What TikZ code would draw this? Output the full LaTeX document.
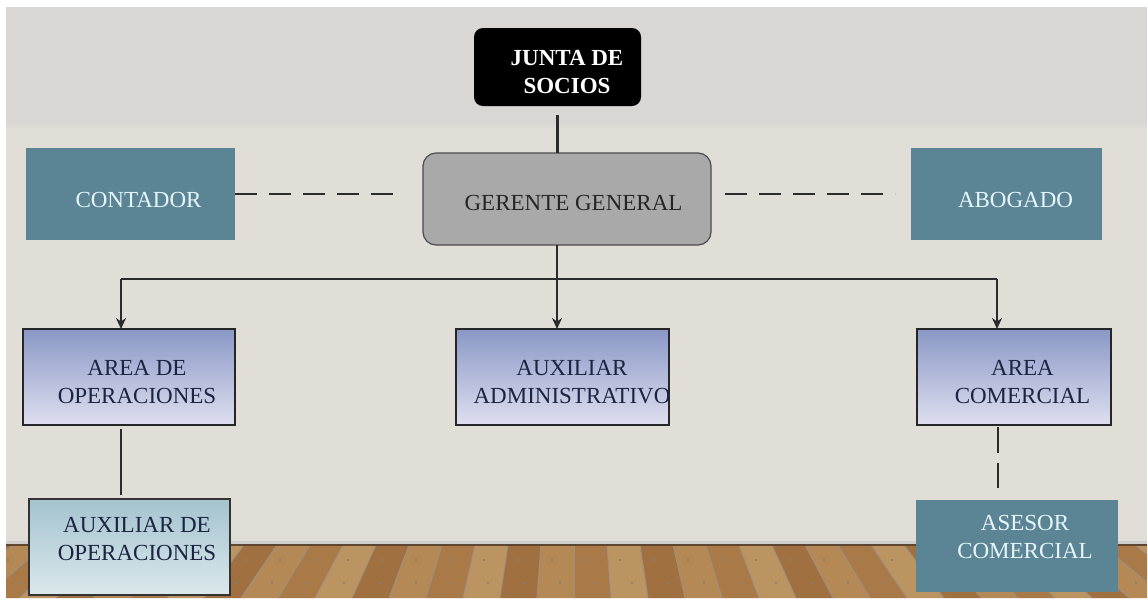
\documentclass[tikz,border=0pt]{standalone}
\usepackage{fontspec}
\setmainfont{Liberation Serif}
\usetikzlibrary{arrows.meta}
\definecolor{band}{HTML}{D9D7D3}
\definecolor{wall}{HTML}{E1DED7}
\definecolor{tealbox}{HTML}{5B8595}
\definecolor{tealtext}{HTML}{E6F5FB}
\definecolor{navytext}{HTML}{1B2440}
\definecolor{gerfill}{HTML}{A9A9A9}
\definecolor{gtop}{HTML}{8A98C6}
\definecolor{gbot}{HTML}{DEDFEF}
\definecolor{ctop}{HTML}{A3C3CF}
\definecolor{cbot}{HTML}{DCE8EC}
\definecolor{w0}{HTML}{A97A48}
\definecolor{w1}{HTML}{BC9462}
\definecolor{w2}{HTML}{A07040}
\definecolor{w3}{HTML}{B48956}
\definecolor{floorline}{HTML}{5E4630}
\definecolor{linec}{HTML}{2B2B2B}
\tikzset{
  boxbase/.style={inner sep=0pt, outer sep=0pt},
  tealnode/.style={boxbase, fill=tealbox},
  gradnode/.style={boxbase, draw=black!85, line width=1.3pt, top color=gtop, bottom color=gbot},
  lightnode/.style={boxbase, draw=black!80, line width=1.3pt, top color=ctop, bottom color=cbot},
  txt/.style={inner sep=0pt, align=center, font=\fontsize{23}{28}\selectfont},
  solidline/.style={draw=linec, line width=2.4pt},
  dashline/.style={draw=linec, line width=2.8pt, dash pattern=on 22pt off 12pt},
  arrowline/.style={solidline, -{Stealth[length=11pt,width=10pt]}}
}
\begin{document}
\begin{tikzpicture}[x=1pt,y=-1pt]
\useasboundingbox (0,0) rectangle (1148,603);
\fill[white] (0,0) rectangle (1148,603);
% wall
\fill[wall] (6,7) rectangle (1147,545);
\fill[band] (6,7) rectangle (1147,125);
\fill[band!50!wall] (6,124) rectangle (1147,128);
% floor
\begin{scope}
\clip (6,545) rectangle (1147,598);
\fill[w0] (6,545) rectangle (1147,598);
\foreach \k in {-20,...,19} {
  \pgfmathtruncatemacro\m{mod(\k+40,4)}
  \fill[w\m] (574+33*\k,545) -- (574+33*\k+33,545) -- (574+37*\k+37,598) -- (574+37*\k,598) -- cycle;
  \draw[floorline!60, line width=0.9pt] (574+33*\k,545) -- (574+37*\k,598);
  \fill[floorline!70] (574+34*\k+12,560) circle (1.3pt);
  \fill[floorline!70] (574+36*\k+22,583) circle (1.3pt);
}
\end{scope}
\draw[floorline, line width=1.6pt] (6,545) -- (1147,545);
\fill[black!25, opacity=0.5] (6,541) rectangle (1147,544);

% boxes
\node[boxbase, fill=black, rounded corners=9pt, minimum width=167pt, minimum height=78pt] (junta) at (557.5,67) {};
\node[txt, text=white, font=\bfseries\fontsize{23}{28}\selectfont] (juntat) at (567,72) {JUNTA DE\\SOCIOS};

\node[boxbase, fill=gerfill, draw=black!70, line width=1.2pt, rounded corners=13pt, minimum width=288pt, minimum height=92pt] (gerente) at (567,199) {};
\node[txt, text=black!85] (gerentet) at (573.5,203) {GERENTE GENERAL};

\node[tealnode, minimum width=209pt, minimum height=92pt] (contador) at (130.5,194) {};
\node[txt, text=tealtext] (contadort) at (138.5,200) {CONTADOR};

\node[tealnode, minimum width=191pt, minimum height=92pt] (abogado) at (1006.5,194) {};
\node[txt, text=tealtext] (abogadot) at (1015.5,200) {ABOGADO};

\node[gradnode, minimum width=212pt, minimum height=96pt] (aop) at (129,377) {};
\node[txt, text=navytext] (aopt) at (137,382) {AREA DE\\OPERACIONES};

\node[gradnode, minimum width=213pt, minimum height=96pt] (aadm) at (562.5,377) {};
\node[txt, text=navytext] (aadmt) at (572,382) {AUXILIAR\\ADMINISTRATIVO};

\node[gradnode, minimum width=194pt, minimum height=96pt] (acom) at (1014,377) {};
\node[txt, text=navytext] (acomt) at (1022.5,382) {AREA\\COMERCIAL};

\node[lightnode, minimum width=201pt, minimum height=96pt] (auxop) at (129.5,547) {};
\node[txt, text=navytext] (auxopt) at (137,539) {AUXILIAR DE\\OPERACIONES};

\node[tealnode, minimum width=202pt, minimum height=92pt] (asesor) at (1017,546) {};
\node[txt, text=tealtext] (asesort) at (1025,537) {ASESOR\\COMERCIAL};

% connectors
\coordinate (bus) at (557,279);
\coordinate (busl) at (121,279);
\coordinate (busr) at (997,279);
\coordinate (opsx) at (121,0);
\coordinate (comx) at (998,0);
\draw[solidline, shorten <=9pt] (junta.south) -- (junta.south |- gerente.north);
\draw[solidline] (gerente.south -| bus) -- (bus);
\draw[solidline] (busl) -- (busr);
\draw[arrowline] (bus) -- (aadm.north -| bus);
\draw[arrowline] (busl) -- (aop.north -| busl);
\draw[arrowline] (busr) -- (acom.north -| busr);

\draw[dashline, shorten >=23pt] (contador.east) -- (contador.east -| gerente.west);
\draw[dashline, shorten <=14pt, shorten >=16pt] (gerente.east |- abogado.west) -- (abogado.west);

\draw[solidline, shorten <=4pt, shorten >=4pt] (aop.south -| opsx) -- (auxop.north -| opsx);
\draw[dashline, dash pattern=on 26pt off 10pt, shorten <=2pt, shorten >=12pt] (acom.south -| comx) -- (asesor.north -| comx);
\end{tikzpicture}
\end{document}
